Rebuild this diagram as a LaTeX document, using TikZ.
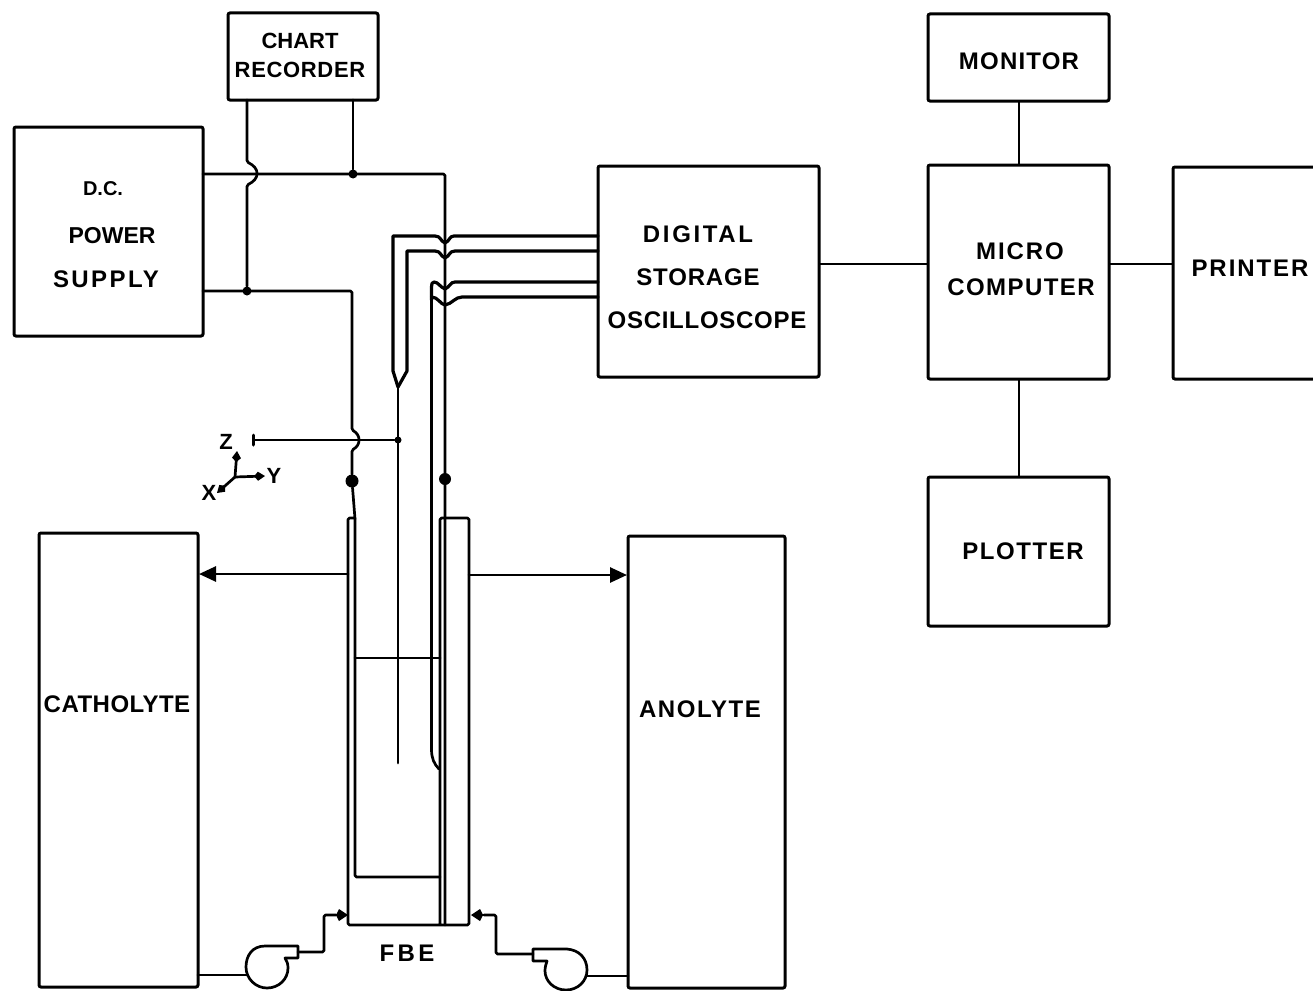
\documentclass[tikz,border=0pt]{standalone}
\usepackage{fontspec}
\setmainfont{Liberation Sans}
\usetikzlibrary{arrows.meta,calc}
\tikzset{
  x=1pt,y=-1pt,
  wire/.style={line width=2.7pt,line join=round,line cap=round,rounded corners=1.5pt},
  probe/.style={line width=3.2pt,line join=round,line cap=round},
  link/.style={line width=2pt},
  blk/.style={draw,line width=3pt,rounded corners=2pt,inner sep=0pt,outer sep=0pt},
  lbl/.style={inner sep=0pt,align=center,font=\fontsize{24}{24}\selectfont\bfseries},
  small lbl/.style={inner sep=0pt,align=center,font=\fontsize{22}{22}\selectfont\bfseries},
  dot/.style={circle,fill,inner sep=0pt,minimum size=#1},
  bigtip/.style={-{Triangle[length=17pt,width=15pt]}},
  smalltip/.style={-{Kite[length=12pt,width=12pt,inset=3pt]}},
  axistip/.style={-{Kite[length=11pt,width=9pt,inset=4pt]}},
}
\newcommand{\blockbox}[5]{% name, x1,y1,x2,y2
  \node[blk,minimum width=#4pt-#2pt,minimum height=#5pt-#3pt,anchor=north west] (#1) at (#2,#3) {};}
\newcommand{\ls}[2]{{\addfontfeature{LetterSpace=#1}#2}}
\begin{document}
\begin{tikzpicture}
\useasboundingbox (0,0) rectangle (1313,990);
% blocks
\blockbox{chart}{228}{13}{378}{100}
\node[small lbl] (charttxt) at (300,41) {CHART};
\node[small lbl] (charttxt2) at (300,70) {\ls{3}{RECORDER}};
\blockbox{dc}{14}{127}{203}{336}
\node[small lbl,font=\fontsize{20}{20}\selectfont\bfseries] (dctxt) at (103,189) {D.C.};
\node[small lbl,font=\fontsize{23}{23}\selectfont\bfseries] (dctxt2) at (112,236) {POWER};
\node[lbl] (dctxt3) at (106,279) {\ls{10}{SUPPLY}};
\blockbox{dso}{598}{166}{819}{377}
\node[lbl] (dsotxt) at (698,234) {\ls{11}{DIGITAL}};
\node[lbl] (dsotxt2) at (698,277) {\ls{3.5}{STORAGE}};
\node[lbl] (dsotxt3) at (707,320) {\ls{3}{OSCILLOSCOPE}};
\blockbox{mon}{928}{14}{1109}{101}
\node[lbl] (montxt) at (1019,61) {\ls{5}{MONITOR}};
\blockbox{micro}{928}{165}{1109}{379}
\node[lbl] (microtxt) at (1020,251) {\ls{8}{MICRO}};
\node[lbl] (microtxt2) at (1021,287) {\ls{6}{COMPUTER}};
\blockbox{printer}{1173}{167}{1330}{379}
\node[lbl] (printertxt) at (1250,268) {\ls{8}{PRINTER}};
\blockbox{plot}{928}{477}{1109}{626}
\node[lbl] (plottxt) at (1023,551) {\ls{6.5}{PLOTTER}};
\blockbox{cath}{39}{533}{198}{987}
\node[lbl] (cathtxt) at (117,704) {\ls{2}{CATHOLYTE}};
\blockbox{ano}{628}{536}{785}{988}
\node[lbl] (anotxt) at (700,709) {\ls{6.5}{ANOLYTE}};
% computer links
\coordinate (lk) at (700,264);
\draw[link] (mon.south) -- (micro.north);
\draw[link] (micro.south) -- (plot.north);
\draw[link] (dso.east |- lk) -- (micro.west |- lk);
\draw[link] (micro.east |- lk) -- (printer.west |- lk);
% junctions
\node[dot=9pt] (jt1) at (353,174) {};
\node[dot=9pt] (jt2) at (247,291) {};
\node[dot=13pt] (jt3) at (352,481) {};
\node[dot=12pt] (jt4) at (445,479) {};
\node[dot=7pt] (jt5) at (398,440) {};
% cell outline
\draw[wire] (355,518) -- (348,518) -- (348,925) -- (469,925) -- (469,518) -- (440,518) -- (440,925);
\draw[wire] (355,519) -- (355,877) -- (440,877);
\draw[wire] (355,658) -- (440,658);
% DC power
\coordinate (pw1) at (445,174);
\draw[wire] (dc.east |- jt1) -- (pw1) -- (445,925);
\draw[wire] (dc.east |- jt2) -- (352,291) -- (352,430)
  .. controls (361,435) and (361,445) .. (352,450) -- (jt3);
\draw[wire] (jt3) -- (355,519);
\draw[wire] (jt1 |- chart.south) -- (jt1);
\draw[wire] (jt2 |- chart.south) -- (247,162)
  .. controls (260,168) and (260,179) .. (247,185) -- (jt2);
% probes to DSO
\coordinate (t1) at (445,243);
\coordinate (t2) at (445,258);
\coordinate (t3) at (445,289);
\coordinate (t4) at (445,305);
\coordinate (fork) at (398,387);
\draw[probe] (dso.west |- 0,236) -- (454,236) .. controls (449,236) and (450,241) .. (t1)
  .. controls (440,241) and (441,236) .. (435,236) -- (393,236) -- (393,371) -- (fork);
\draw[probe] (dso.west |- 0,251) -- (455,251) .. controls (449,251) and (450,256) .. (t2)
  .. controls (440,256) and (441,251) .. (435,251) -- (407,251) -- (407,371) -- (fork);
\draw[probe] (dso.west |- 0,282) -- (455,282) .. controls (450,282) and (450,287) .. (t3)
  .. controls (440,287) and (438,282) .. (434,282) .. controls (432,282) and (431.5,284) .. (431.5,287) -- (431.5,300);
\draw[probe] (dso.west |- 0,297) -- (462,297) .. controls (455,297) and (452,304) .. (t4)
  .. controls (440,304) and (438,297) .. (431.5,297);
\draw[wire] (431.5,300) -- (431.5,748) .. controls (431.5,758) and (434,764) .. (439,769);
\draw[wire] (fork) -- (398,763);
% z-wire
\coordinate (zend) at (254,440);
\draw[wire] (zend) -- (jt5);
\draw[line width=3pt,line cap=round] (253,435) -- (253,445);
% axes
\coordinate (o) at (235,477);
\coordinate (az) at (237,451);
\coordinate (ay) at (265,476);
\coordinate (ax) at (217,493);
\draw[wire,rounded corners=0pt,axistip] (o) -- (az);
\draw[wire,rounded corners=0pt,axistip] (o) -- (ay);
\draw[wire,rounded corners=0pt,axistip] (o) -- (ax);
\node[small lbl] (zl) at (226,442) {Z};
\node[small lbl] (yl) at (274,476) {Y};
\node[small lbl] (xl) at (209,493) {X};
% outlet arrows
\coordinate (cl) at (348,574);
\coordinate (cr) at (469,575);
\draw[wire,bigtip,rounded corners=0pt,shorten >=1pt] (cl) -- (cath.east |- cl);
\draw[wire,bigtip,rounded corners=0pt,shorten >=1pt] (cr) -- (ano.west |- cr);
% pump left
\coordinate (pl) at (298,952);
\draw[wire] (cath.east |- 0,975) -- (247,975);
\draw[wire,rounded corners=0pt] (pl) -- (298,946) -- (265,946)
  .. controls (252,946) and (246,956) .. (246,967)
  .. controls (246,979) and (256,988) .. (267,988)
  .. controls (279,988) and (288,979) .. (288,968)
  .. controls (288,964) and (287,961) .. (285,958) -- (298,958) -- (pl);
\draw[wire] (pl) -- (324,952) -- (324,915) -- (336,915);
\draw[wire,smalltip,rounded corners=0pt] (330,915) -- (348,915);
% pump right
\coordinate (pr) at (533,954);
\draw[wire] (ano.west |- 0,976) -- (587,976);
\draw[wire,rounded corners=0pt] (pr) -- (533,949) -- (567,949)
  .. controls (579,950) and (587,958) .. (587,970)
  .. controls (587,981) and (578,990) .. (566,990)
  .. controls (554,990) and (545,981) .. (545,971)
  .. controls (545,967) and (546,964) .. (547,961) -- (533,961) -- (pr);
\draw[wire] (pr) -- (496,954) -- (496,915) -- (484,915);
\draw[wire,smalltip,rounded corners=0pt] (490,915) -- (471,915);
\node[lbl] (fbe) at (407,953) {\ls{14}{FBE}};
\end{tikzpicture}
\end{document}
